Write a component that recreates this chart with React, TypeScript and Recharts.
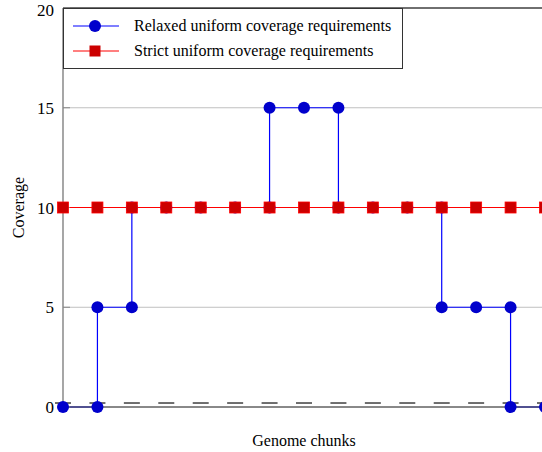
import {
  LineChart,
  Line,
  XAxis,
  YAxis,
  CartesianGrid,
  ReferenceLine,
  Legend,
} from "recharts";

// chunk positions on the x axis
const chunks = [0, 1, 2, 3, 4, 5, 6, 7, 8, 9, 10, 11, 12, 13, 14];

// relaxed requirement: a step path, so x repeats where the level jumps
const relaxedX = [0, 1, 1, 2, 2, 3, 4, 5, 6, 6, 7, 8, 8, 9, 10, 11, 11, 12, 13, 13, 14];
const relaxedY = [0, 0, 5, 5, 10, 10, 10, 10, 10, 15, 15, 15, 10, 10, 10, 10, 5, 5, 5, 0, 0];

// strict requirement: flat coverage for every chunk
const strictY = [10, 10, 10, 10, 10, 10, 10, 10, 10, 10, 10, 10, 10, 10, 10];

// small dash marks just above zero
const floorY = [0.2, 0.2, 0.2, 0.2, 0.2, 0.2, 0.2, 0.2, 0.2, 0.2, 0.2, 0.2, 0.2, 0.2, 0.2];

const yTicks = [0, 5, 10, 15, 20];

const relaxedData = relaxedX.map((x, i) => ({ x, y: relaxedY[i] }));
const strictData = chunks.map((x, i) => ({ x, y: strictY[i] }));
const floorData = chunks.map((x, i) => ({ x, y: floorY[i] }));

const FONT = "'Liberation Serif', 'Times New Roman', serif";

const SquareDot = (props: any) => {
  const { cx, cy } = props;
  if (cx == null || cy == null) return null;
  return (
    <rect
      x={cx - 5.5}
      y={cy - 5.5}
      width={11}
      height={11}
      fill="#cc0000"
      stroke="#ff0000"
      strokeWidth={0.8}
    />
  );
};

const DashMark = (props: any) => {
  const { cx, cy } = props;
  if (cx == null || cy == null) return null;
  return <line x1={cx - 8} x2={cx + 8} y1={cy} y2={cy} stroke="#222" strokeWidth={1.3} />;
};

const LegendBox = () => (
  <div
    style={{
      border: "1px solid #333",
      background: "#fff",
      width: 338,
      height: 55,
      paddingTop: 4,
      fontFamily: FONT,
      fontSize: 16,
      color: "#000",
      boxSizing: "content-box",
    }}
  >
    {[
      { name: "Relaxed uniform coverage requirements", color: "#0000ff", mark: "circle" },
      { name: "Strict uniform coverage requirements", color: "#ff0000", mark: "square" },
    ].map((item) => (
      <div key={item.name} style={{ display: "flex", alignItems: "center", height: 25.5 }}>
        <svg width={70} height={20} style={{ display: "block" }}>
          <line x1={9} x2={55} y1={10} y2={10} stroke={item.color} strokeWidth={1.2} />
          {item.mark === "circle" ? (
            <circle cx={31} cy={10} r={6} fill="#0000cc" />
          ) : (
            <rect x={25.5} y={4.5} width={11} height={11} fill="#cc0000" />
          )}
        </svg>
        <span>{item.name}</span>
      </div>
    ))}
  </div>
);

const App = () => {
  return (
    <div
      style={{
        position: "absolute",
        left: 0,
        top: 0,
        width: 542,
        height: 452,
        overflow: "hidden",
        background: "#fff",
        fontFamily: FONT,
      }}
    >
      <LineChart
        width={560}
        height={452}
        margin={{ top: 8, right: 15, left: 0, bottom: 0 }}
      >
        <CartesianGrid horizontal vertical={false} stroke="#c0c0c0" strokeWidth={1} />
        <XAxis
          type="number"
          dataKey="x"
          domain={[0, 14]}
          ticks={chunks}
          tick={false}
          tickLine={false}
          height={45}
          axisLine={{ stroke: "#333", strokeWidth: 1.2 }}
          label={{
            value: "Genome chunks",
            position: "insideBottom",
            offset: 6,
            style: { fontFamily: FONT, fontSize: 16, fill: "#000" },
          }}
          allowDuplicatedCategory={false}
        />
        <YAxis
          type="number"
          domain={[0, 20]}
          ticks={yTicks}
          width={63}
          tickSize={-7}
          tickMargin={16}
          tickLine={{ stroke: "#888" }}
          axisLine={{ stroke: "#777", strokeWidth: 1.3 }}
          tick={{ fill: "#000", fontSize: 17, fontFamily: FONT }}
          label={{
            value: "Coverage",
            angle: -90,
            position: "insideLeft",
            offset: 18,
            style: { textAnchor: "middle", fontFamily: FONT, fontSize: 16, fill: "#000" },
          }}
        />
        <ReferenceLine y={20} stroke="#000" strokeWidth={1.2} />
        <ReferenceLine x={14} stroke="#333" strokeWidth={1.2} />
        <Line
          data={floorData}
          dataKey="y"
          stroke="none"
          dot={<DashMark />}
          activeDot={false}
          isAnimationActive={false}
          legendType="none"
        />
        <Line
          data={relaxedData}
          dataKey="y"
          name="Relaxed uniform coverage requirements"
          type="linear"
          stroke="#0000ff"
          strokeWidth={1.2}
          dot={{ r: 6, fill: "#0000cc", stroke: "#0000cc", strokeWidth: 0 }}
          activeDot={false}
          isAnimationActive={false}
        />
        <Line
          data={strictData}
          dataKey="y"
          name="Strict uniform coverage requirements"
          type="linear"
          stroke="#ff0000"
          strokeWidth={1.2}
          dot={<SquareDot />}
          activeDot={false}
          isAnimationActive={false}
        />
        <Legend
          layout="vertical"
          align="center"
          verticalAlign="middle"
          content={() => <LegendBox />}
          wrapperStyle={{ position: "absolute", left: 63, top: 8, width: "auto", height: "auto" }}
        />
      </LineChart>
    </div>
  );
};

export default App;
